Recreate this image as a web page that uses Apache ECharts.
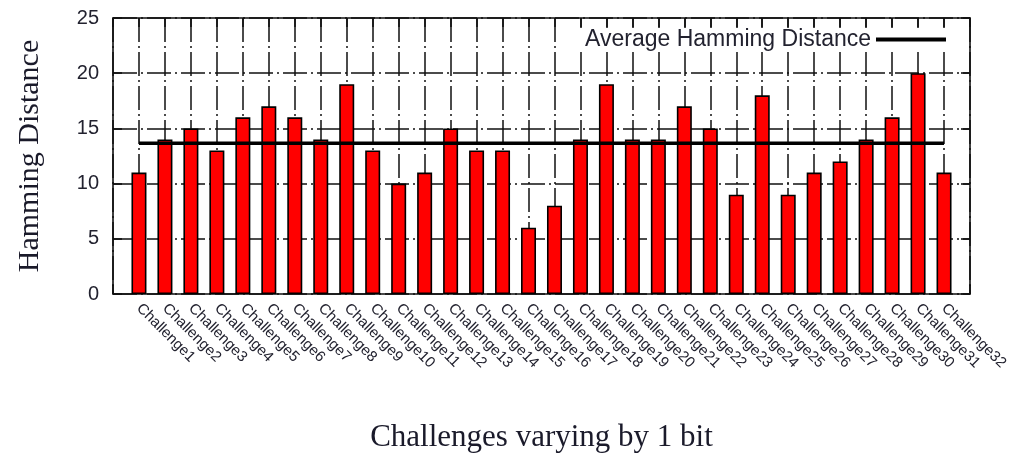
<!DOCTYPE html>
<html>
<head>
<meta charset="utf-8">
<title>Hamming Distance per Challenge</title>
<script src="https://cdn.jsdelivr.net/npm/echarts@6/dist/echarts.min.js"></script>
<style>
  html, body { margin: 0; padding: 0; background: #fff; }
  #chart { width: 1013px; height: 455px; }
</style>
</head>
<body>
<div id="chart"></div>
<script>
// Challenge labels along the x axis
const categories = [
  'Challenge1', 'Challenge2', 'Challenge3', 'Challenge4', 'Challenge5', 'Challenge6',
  'Challenge7', 'Challenge8', 'Challenge9', 'Challenge10', 'Challenge11', 'Challenge12',
  'Challenge13', 'Challenge14', 'Challenge15', 'Challenge16', 'Challenge17', 'Challenge18',
  'Challenge19', 'Challenge20', 'Challenge21', 'Challenge22', 'Challenge23', 'Challenge24',
  'Challenge25', 'Challenge26', 'Challenge27', 'Challenge28', 'Challenge29', 'Challenge30',
  'Challenge31', 'Challenge32'
];

// Hamming distance of each response
const hammingValues = [
  11, 14, 15, 13, 16, 17, 16, 14, 19, 13, 10, 11, 15, 13, 13, 6,
  8, 14, 19, 14, 14, 17, 15, 9, 18, 9, 11, 12, 14, 16, 20, 11
];

// Y axis range and tick step
const yTicks = { min: 0, max: 25, step: 5 };

const averageName = 'Average Hamming Distance';
const average = hammingValues.reduce((a, b) => a + b, 0) / hammingValues.length;

const gridDash = [24, 4, 2, 4];
const ink = '#111';
const labelInk = '#22222f';

const chart = echarts.init(document.getElementById('chart'), null, { renderer: 'canvas' });

const xBase = {
  type: 'value',
  min: -1,
  max: categories.length,
  interval: 1
};

const frameLine = { onZero: false, lineStyle: { color: ink, width: 1.6 } };
const innerTick = { show: true, inside: true, length: 9, lineStyle: { color: ink, width: 1.6 } };

chart.setOption({
  animation: false,
  backgroundColor: '#fff',
  grid: { left: 113, right: 43, top: 18, bottom: 161, outerBoundsMode: 'none', containLabel: false },
  legend: {
    data: [{ name: averageName, icon: 'rect' }],
    right: 61,
    top: 28,
    align: 'right',
    itemWidth: 70,
    itemHeight: 4,
    itemGap: 14,
    backgroundColor: '#fff',
    padding: [0, 6],
    textStyle: { fontFamily: 'Liberation Sans', fontSize: 23, color: labelInk }
  },
  xAxis: [
    Object.assign({}, xBase, {
      position: 'bottom',
      name: 'Challenges varying by 1 bit',
      nameLocation: 'middle',
      nameGap: 128,
      nameTextStyle: { fontFamily: 'Liberation Serif', fontSize: 31, color: '#1a1a2a' },
      axisLine: frameLine,
      axisTick: innerTick,
      axisLabel: {
        rotate: -45,
        margin: 12,
        fontFamily: 'Liberation Sans',
        fontSize: 15,
        color: labelInk,
        formatter: (v) => categories[v] || ''
      },
      splitLine: { show: true, lineStyle: { color: ink, width: 1.5, type: gridDash } }
    }),
    Object.assign({}, xBase, {
      position: 'top',
      axisLine: frameLine,
      axisTick: innerTick,
      axisLabel: { show: false },
      splitLine: { show: false }
    })
  ],
  yAxis: [
    {
      type: 'value',
      min: yTicks.min,
      max: yTicks.max,
      interval: yTicks.step,
      position: 'left',
      name: 'Hamming Distance',
      nameLocation: 'middle',
      nameGap: 68,
      nameTextStyle: { fontFamily: 'Liberation Serif', fontSize: 30, color: '#1a1a2a' },
      axisLine: Object.assign({ show: true }, frameLine),
      axisTick: innerTick,
      axisLabel: { margin: 14, fontFamily: 'Liberation Sans', fontSize: 20, color: labelInk },
      splitLine: { show: true, lineStyle: { color: ink, width: 1.5, type: gridDash } }
    },
    {
      type: 'value',
      min: yTicks.min,
      max: yTicks.max,
      interval: yTicks.step,
      position: 'right',
      axisLine: Object.assign({ show: true }, frameLine),
      axisTick: innerTick,
      axisLabel: { show: false },
      splitLine: { show: false }
    }
  ],
  series: [
    {
      name: 'Hamming Distance',
      type: 'bar',
      xAxisIndex: 0,
      yAxisIndex: 0,
      barWidth: 15,
      data: hammingValues.map((v, i) => [i, v]),
      itemStyle: { color: '#ff0000', borderColor: '#000', borderWidth: 1.6 },
      z: 3
    },
    {
      name: averageName,
      type: 'line',
      xAxisIndex: 0,
      yAxisIndex: 0,
      data: [[0, average], [hammingValues.length - 1, average]],
      symbol: 'none',
      color: '#000',
      lineStyle: { color: '#000', width: 3.5 },
      z: 5
    }
  ]
});
</script>
</body>
</html>
